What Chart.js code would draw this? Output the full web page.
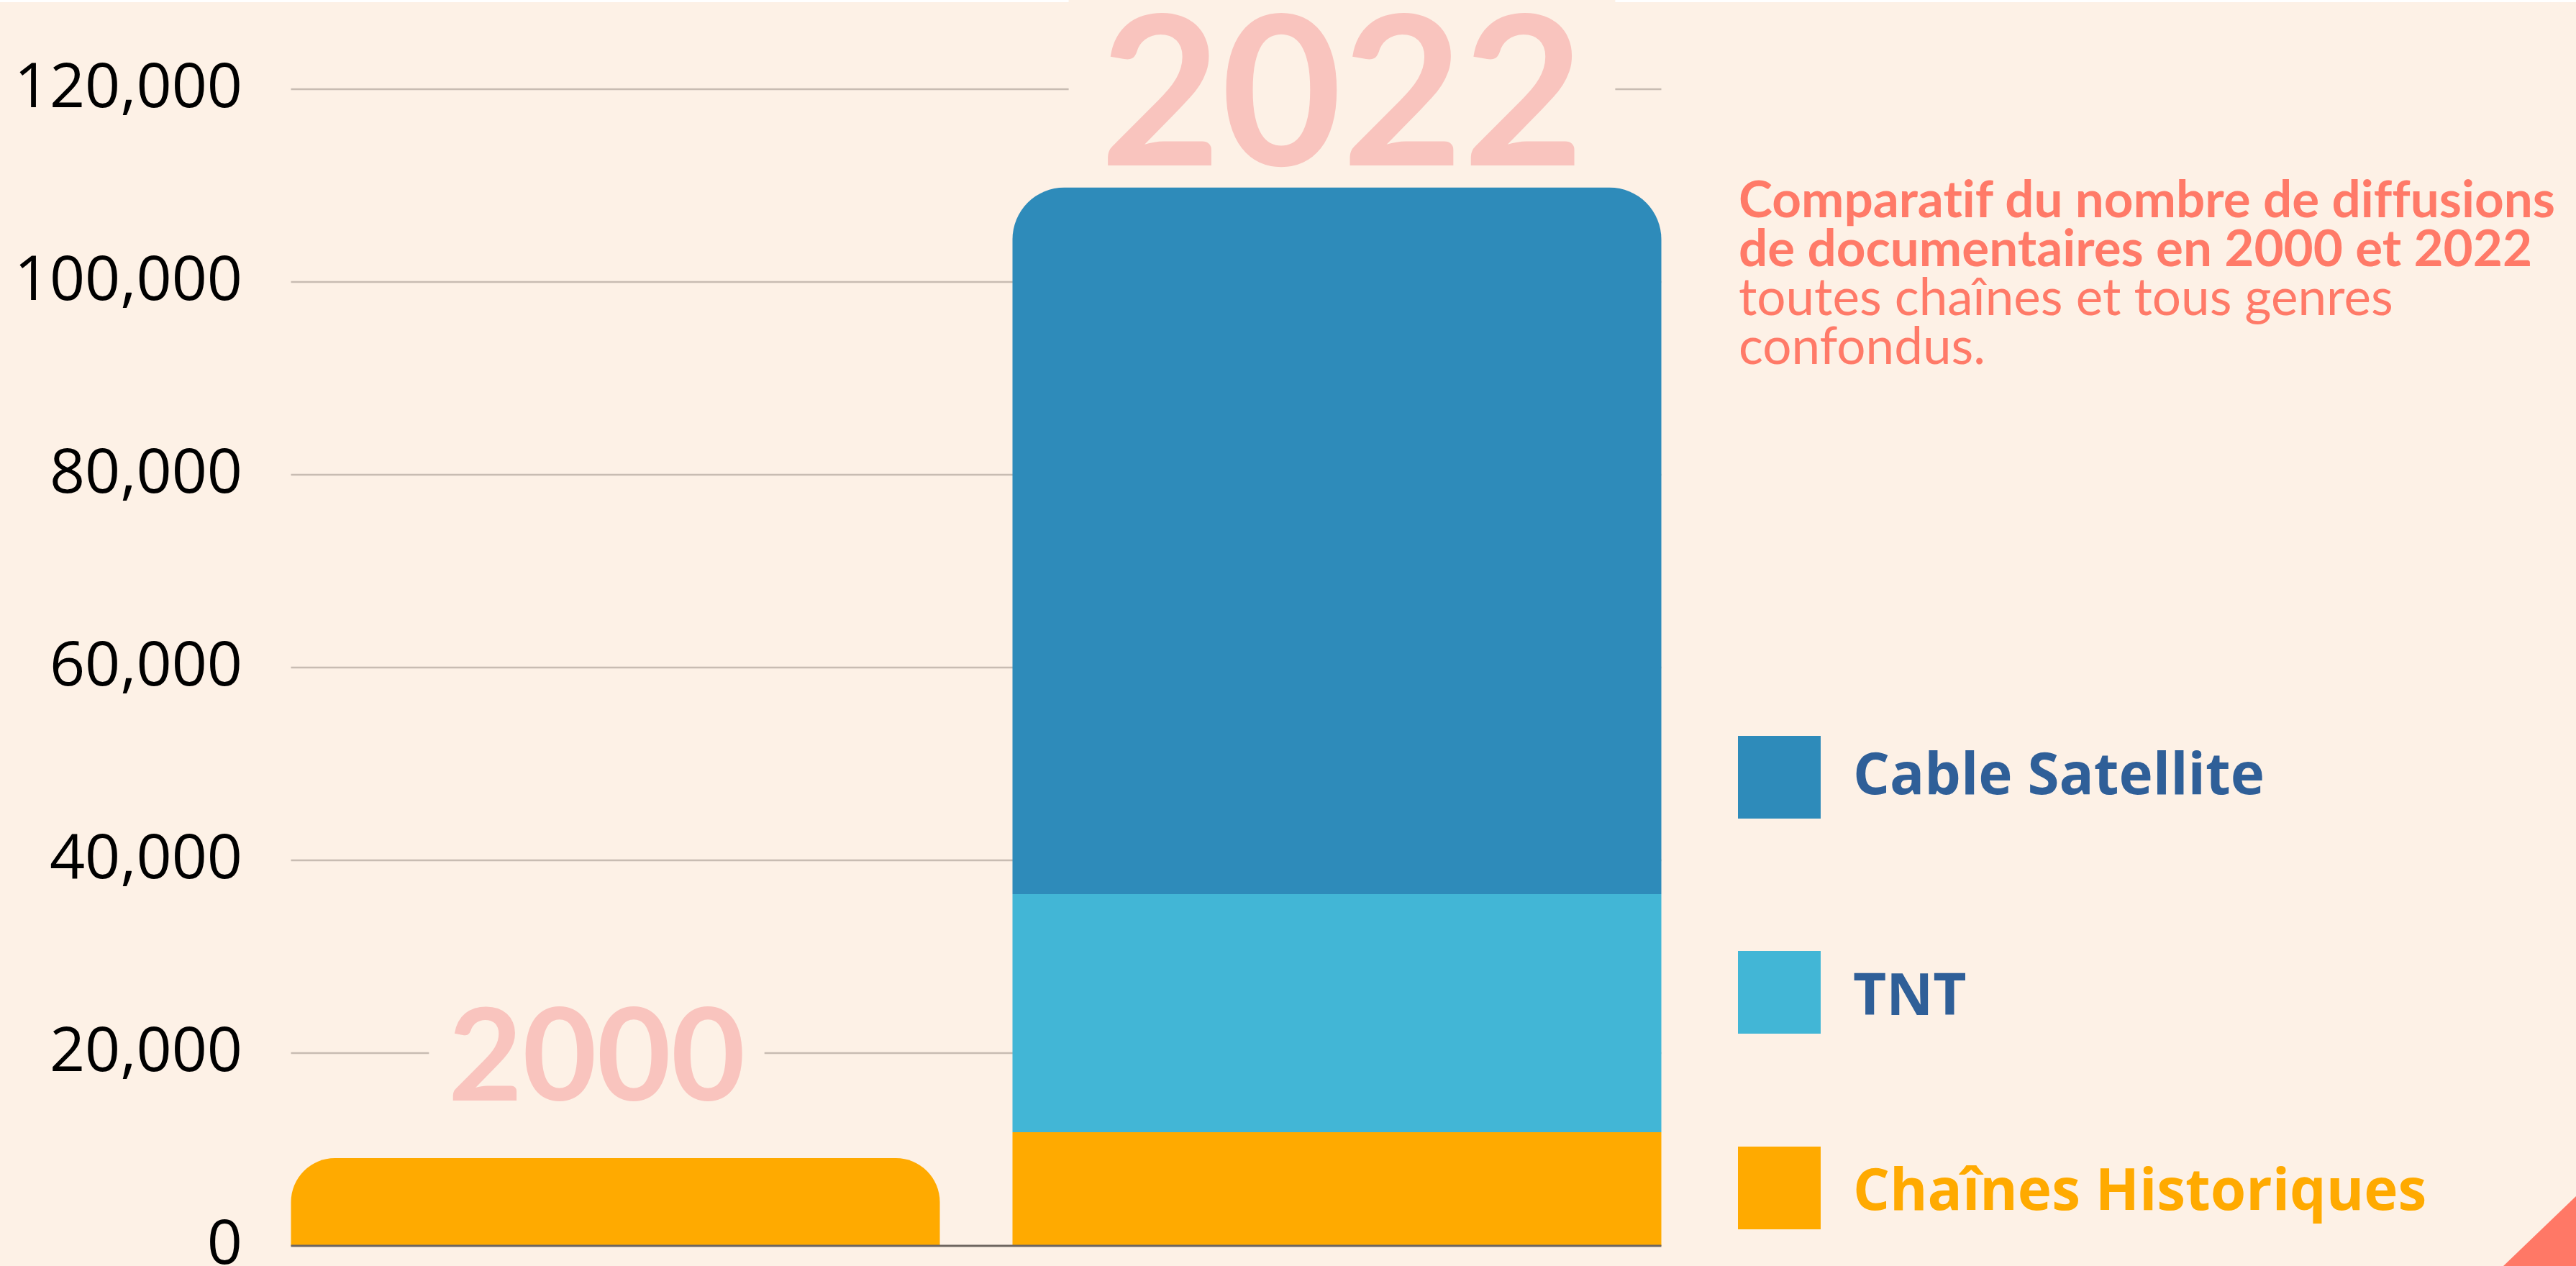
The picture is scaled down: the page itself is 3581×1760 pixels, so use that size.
<!DOCTYPE html>
<html><head><meta charset="utf-8">
<script src="https://cdn.jsdelivr.net/npm/chart.js@4"></script>
<style>
html,body{margin:0;padding:0;background:#FDF1E6;width:3581px;height:1760px;overflow:hidden}
#wrap{position:absolute;left:0;top:0;width:3581px;height:1760px}
#title{position:absolute;left:2417px;top:241px;font-family:Lato,sans-serif;color:#FF7A68;font-size:71px;line-height:68px;white-space:nowrap;font-variant-ligatures:none;font-feature-settings:"liga" 0}
#title .b{font-weight:700}
.item{position:absolute;left:2416px;display:flex;align-items:center;height:115px}
.sw{width:115px;height:115px;margin-right:45px;flex:none}
.lbl{font-family:'Open Sans',sans-serif;font-weight:700;font-size:80px;white-space:nowrap;position:relative}
#corner{position:absolute;right:0;bottom:0;width:101px;height:97px;background:#FF7866;clip-path:polygon(100% 0,100% 100%,0 100%)}
</style></head>
<body>
<div id="wrap"><canvas id="c"></canvas></div>
<div id="title"><span class="b">Comparatif du nombre de diffusions<br>de documentaires en 2000 et 2022</span><br>toutes chaînes et tous genres<br>confondus.</div>
<div id="legend"></div>
<div id="corner"></div>
<script>
const categories = ['2000', '2022'];
const historiques = [9100, 11800];
const tnt = [null, 24700];
const cable = [null, 73300];
const yTicks = [0, 20000, 40000, 60000, 80000, 100000, 120000];
const seriesNames = ['Chaînes Historiques', 'TNT', 'Cable Satellite'];
const yearAnchors = [20000, 120000];

const colors = ['#FFAA00', '#42B6D6', '#2E8BBA'];
const legendTextColors = ['#FFAA00', '#2F5F98', '#2F5F98'];
const legendTops = [1594, 1322, 1023];
const legendTextShift = [-1, 0, -8];
const yearFontSizes = [178, 290];
const yearDx = [-26, 7];
const BG = '#FDF1E6';

const decor = {
  id: 'decor',
  beforeDraw(chart) {
    const ctx = chart.ctx;
    ctx.save();
    ctx.fillStyle = '#FFFFFF';
    ctx.fillRect(0, 0, chart.width, 3);
    ctx.restore();
  },
  beforeDatasetsDraw(chart) {
    const { ctx, scales: { y } } = chart;
    const bars = chart.getDatasetMeta(0).data;
    const left = bars[0].x - bars[0].width / 2;
    const right = bars[bars.length - 1].x + bars[bars.length - 1].width / 2;
    ctx.save();
    ctx.strokeStyle = '#C8BCB2';
    ctx.lineWidth = 2.5;
    yTicks.forEach(v => {
      if (v === 0) return;
      const py = y.getPixelForValue(v);
      ctx.beginPath(); ctx.moveTo(left, py); ctx.lineTo(right, py); ctx.stroke();
    });
    categories.forEach((c, i) => {
      const size = yearFontSizes[i];
      ctx.font = '700 ' + size + 'px Lato';
      const w = ctx.measureText(c).width;
      const cx = bars[i].x + yearDx[i];
      const py = y.getPixelForValue(yearAnchors[i]);
      const pad = size * 0.15;
      ctx.fillStyle = BG;
      ctx.fillRect(cx - w / 2 - pad, py - size * 0.5, w + 2 * pad, size);
      ctx.fillStyle = '#F9C4BE';
      ctx.textAlign = 'center';
      ctx.textBaseline = 'alphabetic';
      ctx.fillText(c, cx, py + size * 0.7165 / 2 + 2);
    });
    ctx.restore();
  },
  afterDatasetsDraw(chart) {
    const { ctx, scales: { y } } = chart;
    const bars = chart.getDatasetMeta(0).data;
    const left = bars[0].x - bars[0].width / 2;
    const right = bars[bars.length - 1].x + bars[bars.length - 1].width / 2;
    const py = y.getPixelForValue(0);
    ctx.save();
    ctx.strokeStyle = '#6E6660';
    ctx.lineWidth = 3;
    ctx.beginPath(); ctx.moveTo(left, py); ctx.lineTo(right, py); ctx.stroke();
    ctx.restore();
  }
};

const chart = new Chart(document.getElementById('c'), {
  type: 'bar',
  data: {
    labels: categories,
    datasets: [
      { label: seriesNames[0], data: historiques, backgroundColor: colors[0], borderRadius: 72, borderSkipped: 'start' },
      { label: seriesNames[1], data: tnt, backgroundColor: colors[1], borderRadius: 72, borderSkipped: 'start' },
      { label: seriesNames[2], data: cable, backgroundColor: colors[2], borderRadius: 72, borderSkipped: 'start' }
    ]
  },
  options: {
    responsive: true,
    maintainAspectRatio: false,
    animation: false,
    layout: { padding: { left: 0, right: 1221, top: 124, bottom: 28 } },
    plugins: { legend: { display: false }, tooltip: { enabled: false } },
    datasets: { bar: { categoryPercentage: 1, barPercentage: 0.8993 } },
    scales: {
      x: { stacked: true, display: false, grid: { display: false } },
      y: {
        stacked: true, min: 0, max: 120000,
        afterFit(s) { s.width = 354; s.paddingTop = 0; s.paddingBottom = 0; },
        afterBuildTicks(s) { s.ticks = yTicks.map(v => ({ value: v })); },
        grid: { display: false, drawTicks: false },
        border: { display: false },
        ticks: {
          padding: 17, color: '#000000',
          font: { family: 'Open Sans', size: 86, lineHeight: 0.6 },
          callback: v => Number(v).toLocaleString('en-US')
        }
      }
    }
  },
  plugins: [decor]
});

const legend = document.getElementById('legend');
seriesNames.forEach((name, i) => {
  const it = document.createElement('div');
  it.className = 'item';
  it.style.top = legendTops[i] + 'px';
  const sw = document.createElement('div');
  sw.className = 'sw';
  sw.style.background = colors[i];
  const lb = document.createElement('span');
  lb.className = 'lbl';
  lb.style.color = legendTextColors[i];
  lb.style.top = legendTextShift[i] + 'px';
  lb.textContent = name;
  it.appendChild(sw); it.appendChild(lb);
  legend.appendChild(it);
});
</script>
</body></html>
